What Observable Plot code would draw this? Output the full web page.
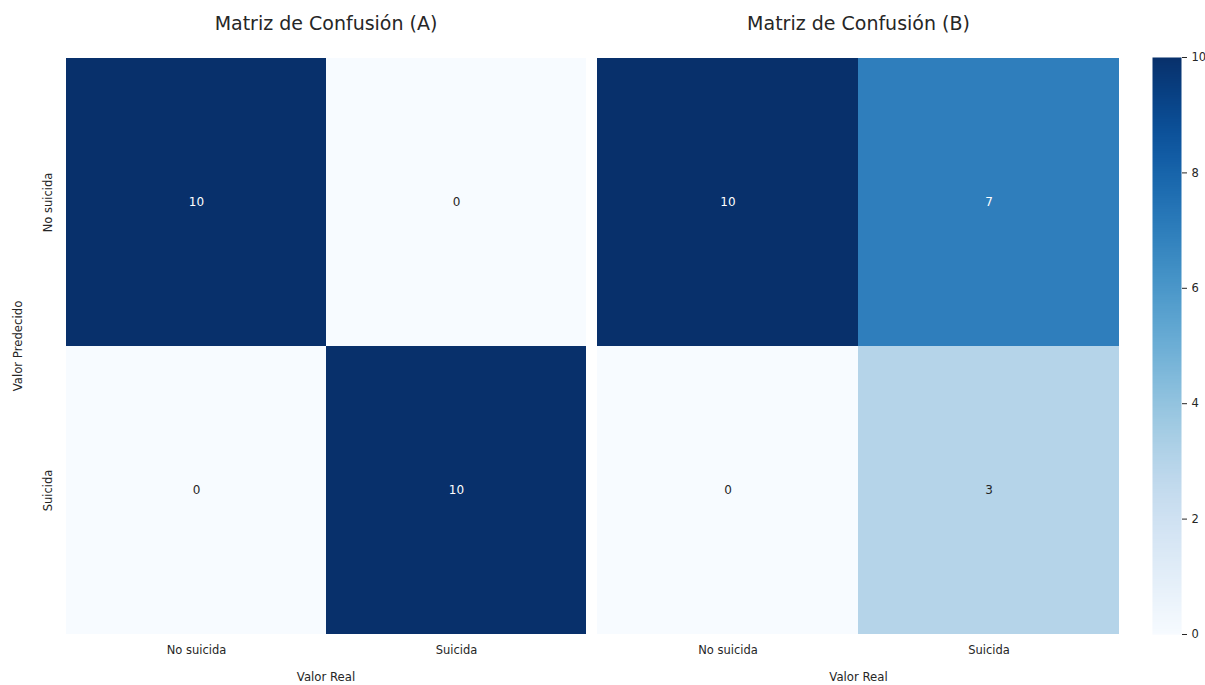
<!DOCTYPE html>
<html><head><meta charset="utf-8">
<script src="https://cdn.jsdelivr.net/npm/d3@7"></script>
<script src="https://cdn.jsdelivr.net/npm/@observablehq/plot@0.6"></script>
<style>
body{margin:0;background:#fff;font-family:"DejaVu Sans",sans-serif}
#wrap{position:relative;width:1205px;height:685px;overflow:hidden}
.p{position:absolute;top:0}
.p svg{overflow:visible}
</style>
</head><body><div id="wrap"></div>
<script>
const categories = ["No suicida", "Suicida"];
// rows = predicted value, columns = real value
const matrixA = [[10, 0], [0, 10]];
const matrixB = [[10, 7], [0, 3]];
const titles = ["Matriz de Confusión (A)", "Matriz de Confusión (B)"];
const xLabel = "Valor Real";
const yLabel = "Valor Predecido";
const colorDomain = [0, 10];
const colorTicks = [0, 2, 4, 6, 8, 10];

const ink = "#262626";
const wrap = document.getElementById("wrap");

function table(mat) {
  const rows = [];
  mat.forEach((r, i) => r.forEach((v, j) => rows.push({pred: categories[i], real: categories[j], value: v})));
  return rows;
}

function panel(mat, title, left, width, marginLeft, showY) {
  const data = table(mat);
  const marks = [
    Plot.cell(data, {x: "real", y: "pred", fill: "value", inset: 0}),
    Plot.text(data, {x: "real", y: "pred", text: d => String(d.value), fill: d => d.value > 5 ? "white" : ink, fontSize: 12}),
    Plot.axisX({tickSize: 0, tickPadding: 11, fontSize: 11.5, color: ink}),
    Plot.text([title], {frameAnchor: "top", lineAnchor: "middle", dy: -34, fontSize: 19, fill: ink}),
    Plot.text([xLabel], {frameAnchor: "bottom", lineAnchor: "middle", dy: 43, fontSize: 11.7, fill: ink})
  ];
  if (showY) {
    marks.push(Plot.text(categories, {y: d => d, frameAnchor: "left", dx: -17, rotate: -90, fontSize: 11.5, fill: ink, textAnchor: "middle"}));
    marks.push(Plot.text([yLabel], {frameAnchor: "left", dx: -47, rotate: -90, fontSize: 11.7, fill: ink, textAnchor: "middle"}));
  }
  const chart = Plot.plot({
    width, height: 685,
    marginLeft, marginRight: 4, marginTop: 57, marginBottom: 51,
    style: {fontFamily: "DejaVu Sans", color: ink, background: "transparent"},
    x: {domain: categories, padding: 0, label: null},
    y: {domain: categories, padding: 0, label: null, axis: null},
    color: {type: "linear", scheme: "blues", domain: colorDomain},
    marks
  });
  const d = document.createElement("div");
  d.className = "p";
  d.style.left = left + "px";
  d.appendChild(chart);
  wrap.appendChild(d);
}

panel(matrixA, titles[0], 0, 590, 65, true);
panel(matrixB, titles[1], 590, 533, 7, false);

// colour bar
const bar = Plot.plot({
  width: 82, height: 685,
  marginLeft: 29, marginRight: 24, marginTop: 57, marginBottom: 51,
  style: {fontFamily: "DejaVu Sans", color: ink, background: "transparent"},
  x: {domain: [0, 1], axis: null},
  y: {domain: colorDomain, label: null},
  color: {type: "linear", scheme: "blues", domain: colorDomain},
  marks: [
    Plot.raster({x1: 0, x2: 1, y1: colorDomain[0], y2: colorDomain[1], width: 1, height: 256, fill: (x, y) => y}),
    Plot.axisY({anchor: "right", ticks: colorTicks, tickSize: 5, tickPadding: 5, fontSize: 11.5, color: ink, label: null})
  ]
});
const bd = document.createElement("div");
bd.className = "p";
bd.style.left = "1123px";
bd.appendChild(bar);
wrap.appendChild(bd);
</script>
</body></html>
